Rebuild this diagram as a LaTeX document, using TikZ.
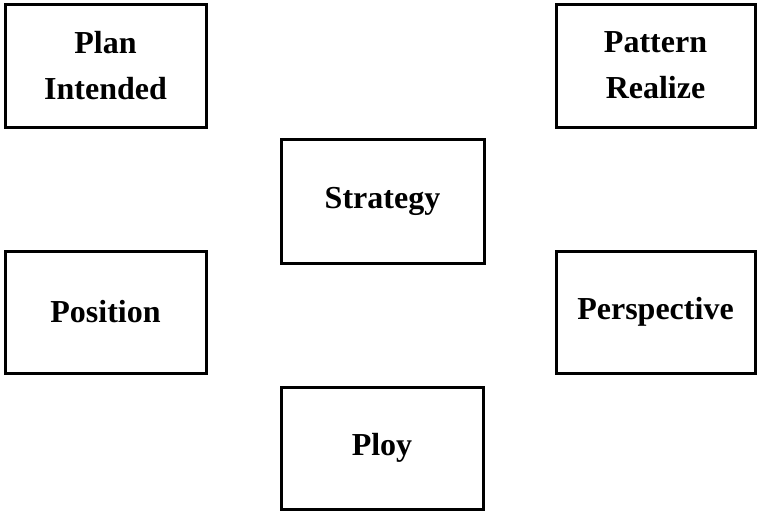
\documentclass[tikz,border=0pt]{standalone}
\usepackage{fontspec}
\setmainfont{Liberation Serif}
\begin{document}
\begin{tikzpicture}[x=1pt,y=-1pt,
  box/.style={draw=black, line width=3pt, rectangle, align=center, inner sep=0pt,
    font=\fontsize{32}{46}\selectfont\bfseries}]
\useasboundingbox (0,0) rectangle (758,512);
\node[box, minimum width=201pt, minimum height=123pt] (plan) at (105.5,65.5) {Plan\\Intended};
\node[box, minimum width=199pt, minimum height=123pt] (pattern) at (655.5,65.5) {Pattern\\Realize};
\node[box, minimum width=203pt, minimum height=124pt] (strategy) at (382.5,201) {Strategy};
\node[box, minimum width=201pt, minimum height=122pt] (position) at (105.5,312) {Position};
\node[box, minimum width=199pt, minimum height=122pt] (perspective) at (655.5,312) {Perspective};
\node[box, minimum width=202pt, minimum height=122pt] (ploy) at (382,448) {Ploy};
\end{tikzpicture}
\end{document}
